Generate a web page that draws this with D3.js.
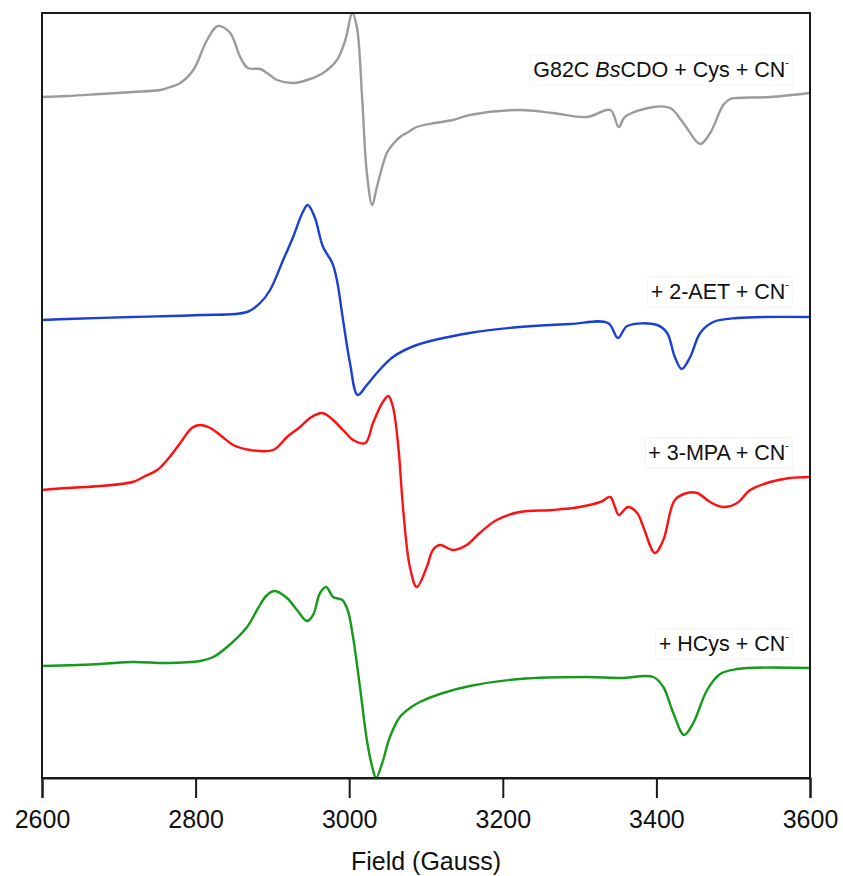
<!DOCTYPE html>
<html>
<head>
<meta charset="utf-8">
<script src="https://cdn.jsdelivr.net/npm/d3@7"></script>
<style>
  body { margin: 0; background: #fff; }
  svg { display: block; font-family: "Liberation Sans", Arial, sans-serif; }
  .frame { fill: none; stroke: #1a1a1a; stroke-width: 2; }
  .trace { fill: none; stroke-width: 2.4; stroke-linejoin: round; }
  .tick-label { font-size: 25px; fill: #111; }
  .series-label { font-size: 21.5px; fill: #111; }
</style>
</head>
<body>
<svg id="chart" width="843" height="876"></svg>
<script>
// EPR spectra, field in Gauss, intensity in arbitrary units (stacked)
const grayTrace = [
  [2600, 681], [2633, 682], [2676, 684], [2718, 686], [2754, 688], [2763, 690],
  [2780, 695], [2797, 708], [2815, 738], [2829, 752], [2845, 745], [2858, 721],
  [2868, 710], [2884, 709], [2893, 705], [2906, 698], [2927, 695], [2949, 699],
  [2966, 705], [2984, 718], [2995, 738], [3004, 765], [3010, 751], [3017, 678],
  [3023, 605], [3030, 573], [3036, 591], [3049, 625], [3056, 633], [3066, 641],
  [3077, 646], [3088, 651], [3112, 655], [3135, 658], [3157, 663], [3222, 668],
  [3265, 665], [3310, 661], [3340, 668], [3351, 651], [3359, 661], [3396, 671],
  [3418, 670], [3435, 655], [3457, 634], [3470, 645], [3487, 673], [3496, 679],
  [3505, 680], [3548, 681], [3600, 685]
];

const blueTrace = [
  [2600, 458], [2633, 459], [2718, 461], [2806, 463], [2867, 466], [2884, 475],
  [2897, 488], [2914, 518], [2927, 541], [2939, 565], [2946, 573], [2955, 561],
  [2966, 531], [2978, 515], [2984, 498], [2992, 458], [3001, 415], [3011, 383],
  [3023, 393], [3036, 405], [3057, 421], [3088, 433], [3157, 445], [3222, 451],
  [3288, 454], [3337, 455], [3350, 440], [3362, 452], [3401, 453], [3414, 445],
  [3424, 421], [3433, 409], [3444, 421], [3457, 445], [3474, 456], [3505, 460],
  [3600, 461]
];

const redTrace = [
  [2600, 288], [2633, 290], [2676, 292], [2718, 296], [2732, 301], [2750, 308],
  [2763, 318], [2780, 335], [2795, 350], [2806, 353], [2819, 350], [2832, 343],
  [2849, 333], [2871, 328], [2901, 328], [2919, 341], [2936, 351], [2949, 360],
  [2965, 365], [2979, 358], [2992, 348], [3005, 338], [3021, 335], [3031, 355],
  [3043, 375], [3051, 382], [3057, 371], [3064, 331], [3070, 271], [3079, 211],
  [3088, 191], [3101, 211], [3109, 228], [3118, 233], [3135, 228], [3153, 233],
  [3170, 245], [3192, 258], [3222, 266], [3265, 268], [3300, 271], [3327, 276],
  [3340, 281], [3346, 271], [3351, 263], [3363, 271], [3375, 265], [3383, 251],
  [3398, 225], [3409, 238], [3424, 278], [3440, 285], [3453, 285], [3470, 276],
  [3487, 271], [3505, 275], [3522, 288], [3548, 296], [3574, 300], [3600, 301]
];

const greenTrace = [
  [2600, 112], [2676, 114], [2718, 116], [2763, 115], [2806, 117], [2823, 121],
  [2841, 131], [2867, 151], [2880, 168], [2893, 183], [2903, 187], [2919, 180],
  [2932, 168], [2945, 157], [2953, 163], [2962, 185], [2970, 191], [2979, 181],
  [2991, 178], [2998, 168], [3005, 141], [3014, 91], [3023, 38], [3030, 11],
  [3035, 0], [3043, 15], [3053, 41], [3066, 61], [3083, 72], [3092, 76],
  [3118, 84], [3157, 92], [3222, 99], [3310, 101], [3353, 100], [3396, 101],
  [3409, 91], [3422, 65], [3436, 43], [3448, 55], [3466, 88], [3483, 104],
  [3505, 109], [3600, 110]
];

const seriesColors = ["#9b9b9b", "#1a3fd4", "#ff1010", "#17991b"];
const seriesLabels = [
  [{ t: "G82C " }, { t: "Bs", italic: true }, { t: "CDO + Cys + CN" }],
  [{ t: "+ 2-AET + CN" }],
  [{ t: "+ 3-MPA + CN" }],
  [{ t: "+ HCys + CN" }]
];
const xTicks = [2600, 2800, 3000, 3200, 3400, 3600];

// layout
const margin = { top: 13, right: 33, bottom: 98, left: 42 };
const width = 843 - margin.left - margin.right;
const height = 876 - margin.top - margin.bottom;
const labelBaselines = [77, 299, 460, 651];
const labelRight = 789;

const svg = d3.select("#chart");
const x = d3.scaleLinear().domain([2600, 3600]).range([margin.left, margin.left + width]);
const y = d3.scaleLinear().domain([0, 765]).range([margin.top + height, margin.top]);

const line = d3.line()
  .x(d => x(d[0]))
  .y(d => y(d[1]))
  .curve(d3.curveCatmullRom.alpha(0.5));

const traces = [grayTrace, blueTrace, redTrace, greenTrace];

svg.append("g")
  .selectAll("path")
  .data(traces)
  .join("path")
  .attr("class", "trace")
  .attr("stroke", (d, i) => seriesColors[i])
  .attr("d", line);

// frame box
svg.append("rect")
  .attr("class", "frame")
  .attr("x", margin.left)
  .attr("y", margin.top)
  .attr("width", width)
  .attr("height", height);

// x axis
const xAxis = d3.axisBottom(x)
  .tickValues(xTicks)
  .tickSize(20)
  .tickPadding(12)
  .tickFormat(d3.format("d"));

const axisG = svg.append("g")
  .attr("transform", `translate(0,${margin.top + height})`)
  .call(xAxis);
axisG.select(".domain").attr("stroke", "#1a1a1a").attr("stroke-width", 2);
axisG.selectAll(".tick line").attr("stroke", "#1a1a1a").attr("stroke-width", 2);
axisG.selectAll(".tick text")
  .attr("class", "tick-label")
  .attr("font-family", null)
  .attr("font-size", null);

svg.append("text")
  .attr("class", "tick-label")
  .attr("x", margin.left + width / 2)
  .attr("y", 870)
  .attr("text-anchor", "middle")
  .text("Field (Gauss)");

// series labels
seriesLabels.forEach((parts, i) => {
  const g = svg.append("g");
  const txt = g.append("text")
    .attr("class", "series-label")
    .attr("x", labelRight)
    .attr("y", labelBaselines[i])
    .attr("text-anchor", "end");
  parts.forEach(p => {
    txt.append("tspan")
      .attr("font-style", p.italic ? "italic" : null)
      .text(p.t);
  });
  txt.append("tspan")
    .attr("font-size", "11px")
    .attr("dy", -11)
    .text("-");
  const bb = txt.node().getBBox();
  g.insert("rect", "text")
    .attr("x", bb.x - 3)
    .attr("y", labelBaselines[i] - 22)
    .attr("width", bb.width + 6)
    .attr("height", 30)
    .attr("fill", "#fff")
    .attr("stroke", "#f3f3f3");
});
</script>
</body>
</html>
